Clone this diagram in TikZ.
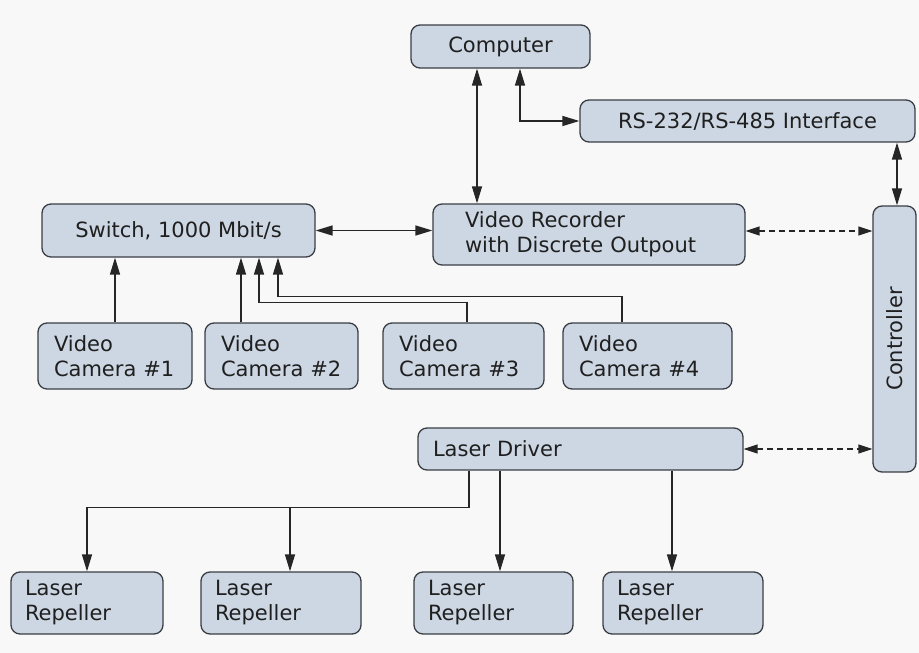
\documentclass[tikz,border=0pt]{standalone}
\usepackage{fontspec}
\setmainfont{DejaVu Sans}
\usepackage{graphicx}
\usepackage{tikz}
\usetikzlibrary{arrows.meta, positioning, calc}
\definecolor{boxfill}{RGB}{205, 215, 227}
\definecolor{boxline}{RGB}{58, 62, 68}
\definecolor{paper}{RGB}{248, 248, 248}
\tikzstyle{block} = [rectangle, rounded corners=9pt, draw=boxline, fill=boxfill, line width=1.3pt, inner sep=0pt, text=black!88, font=\fontsize{21}{25}\selectfont]
\tikzstyle{lblock} = [block, align=left, inner xsep=16pt]
\tikzstyle{arrow} = [line width=1.4pt, draw=black!85, ->, >={Triangle[length=17pt,width=10pt]}]
\tikzstyle{dblarrow} = [arrow, <->]
\tikzstyle{dasharrow} = [dblarrow, >={Triangle[length=14pt,width=9pt]}, dash pattern=on 6pt off 4pt]

\begin{document}
\begin{tikzpicture}[x=1pt, y=-1pt]
    \fill[paper] (0,0) rectangle (919,653);
    \useasboundingbox (0,0) rectangle (919,653);

    % Top row
    \node[block, minimum width=179pt, minimum height=43pt] (comp) at (500.5, 46.5) {Computer};
    \node[block, minimum width=335pt, minimum height=42pt] (rs) at (747.5, 121) {RS-232/RS-485 Interface};

    % Middle row
    \node[block, minimum width=273pt, minimum height=53pt] (sw) at (178.5, 230.5) {Switch, 1000 Mbit/s};
    \node[block, align=left, inner xsep=32pt, minimum width=312pt, text width=248pt, minimum height=61pt] (vr) at (589, 234.5) {Video Recorder\\with Discrete Outpout};
    \node[block, minimum width=43pt, minimum height=266pt] (ctrl) at (894.5, 339) {\rotatebox{90}{Controller}};

    % Cameras
    \node[lblock, minimum width=154pt, text width=122pt, minimum height=66pt] (cam1) at (115, 356) {Video\\Camera \#1};
    \node[lblock, minimum width=153pt, text width=121pt, minimum height=66pt] (cam2) at (281.5, 356) {Video\\Camera \#2};
    \node[lblock, minimum width=161pt, text width=129pt, minimum height=66pt] (cam3) at (463.5, 356) {Video\\Camera \#3};
    \node[lblock, minimum width=169pt, text width=137pt, minimum height=66pt] (cam4) at (647.5, 356) {Video\\Camera \#4};

    % Laser part
    \node[lblock, inner xsep=15pt, minimum width=325pt, text width=295pt, minimum height=42pt] (ld) at (580.5, 449) {Laser Driver};
    \node[lblock, inner xsep=14pt, minimum width=152pt, text width=124pt, minimum height=62pt] (rep1) at (87, 603) {Laser\\Repeller};
    \node[lblock, inner xsep=14pt, minimum width=160pt, text width=132pt, minimum height=62pt] (rep2) at (281, 603) {Laser\\Repeller};
    \node[lblock, inner xsep=14pt, minimum width=159pt, text width=131pt, minimum height=62pt] (rep3) at (493.5, 603) {Laser\\Repeller};
    \node[lblock, inner xsep=14pt, minimum width=160pt, text width=132pt, minimum height=62pt] (rep4) at (683, 603) {Laser\\Repeller};

    % Links
    \draw[dblarrow] ([xshift=-23.5pt]comp.south) -- ([xshift=-112pt]vr.north);
    \draw[dblarrow] ([xshift=19.5pt]comp.south) |- (rs.west);
    \draw[dblarrow] ([xshift=149.5pt]rs.south) -- ([xshift=2.5pt]ctrl.north);
    \draw[dblarrow] (sw.east) -- (sw.east -| vr.west);
    \draw[dasharrow] ([yshift=3.5pt]vr.east) -- ([yshift=3.5pt]vr.east -| ctrl.west);
    \draw[dasharrow] (ld.east) -- (ld.east -| ctrl.west);

    % Cameras to switch
    \draw[arrow] (cam1.north) -- ([xshift=-63.5pt]sw.south);
    \draw[arrow] ([xshift=-40.5pt]cam2.north) -- ([xshift=62.5pt]sw.south);
    \draw[arrow] ([xshift=3.5pt]cam3.north) -- ++(0pt,20pt) -| ([xshift=80.5pt]sw.south);
    \draw[arrow] ([xshift=-25.5pt]cam4.north) -- ++(0pt,26pt) -| ([xshift=99.5pt]sw.south);

    % Driver to repellers
    \coordinate (rep2in) at ([xshift=9pt]rep2.north);
    \draw[arrow] ([xshift=-111.5pt]ld.south) -- ++(0pt,-37pt) coordinate (bus) -| (rep1.north);
    \draw[arrow] (rep2in |- bus) -- (rep2in);
    \draw[arrow] ([xshift=-80.5pt]ld.south) -- ([xshift=6.5pt]rep3.north);
    \draw[arrow] ([xshift=91.5pt]ld.south) -- ([xshift=-11pt]rep4.north);
\end{tikzpicture}
\end{document}
